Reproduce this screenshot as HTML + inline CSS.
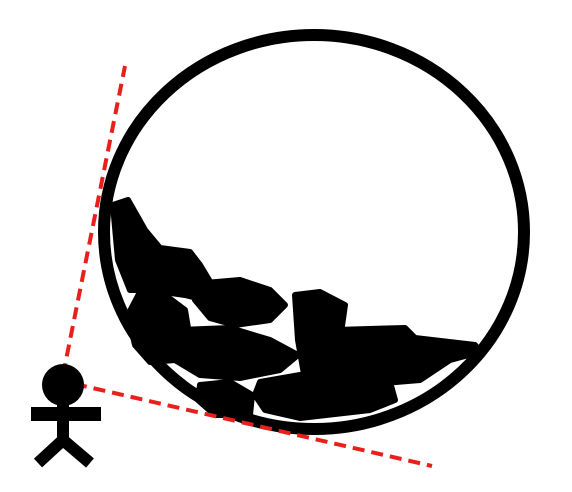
<!DOCTYPE html>
<html><head><meta charset="utf-8"><style>
html,body{margin:0;padding:0;background:#fff;width:572px;height:492px;overflow:hidden}
</style></head><body>
<svg width="572" height="492" viewBox="0 0 572 492">
<g fill="#000" stroke="#000" stroke-width="6" stroke-linejoin="round">
<path d="M113,205 L128,200 L145,230 L160,248 L190,252 L200,265 L212,285 L205,300 L185,295 L150,290 L130,290 L118,260 Z"/>
<path d="M205,283 L240,280 L270,290 L285,305 L270,320 L235,325 L210,318 L195,300 Z"/>
<path d="M140,292 L165,295 L185,310 L190,340 L175,360 L150,362 L135,345 L128,315 Z"/>
<path d="M180,330 L230,328 L270,340 L298,355 L280,370 L240,378 L200,375 L175,360 Z"/>
<path d="M295,295 L320,292 L345,305 L340,340 L330,375 L305,380 L298,340 Z"/>
<path d="M335,330 L405,328 L415,338 L475,345 L480,352 L450,360 L420,380 L360,385 L335,375 L330,350 Z"/>
<path d="M260,382 L300,375 L390,382 L395,400 L370,410 L300,418 L265,410 L255,395 Z"/>
<path d="M200,385 L230,382 L252,395 L250,415 L215,415 L198,400 Z"/>
</g>
<ellipse cx="314" cy="232" rx="210" ry="197" fill="none" stroke="#000" stroke-width="12"/>
<g stroke="#e8201c" stroke-width="4" stroke-dasharray="12 7" fill="none">
<line x1="63" y1="375" x2="125" y2="66"/>
<line x1="75" y1="384" x2="432" y2="466"/>
</g>
<g fill="#000" stroke="#000">
<circle cx="63" cy="385" r="21" stroke="none"/>
<rect x="31" y="407" width="70" height="14" stroke="none"/>
<line x1="63" y1="400" x2="63" y2="442" stroke-width="12"/>
<polyline points="38,463 63,440 90,463" fill="none" stroke-width="12"/>
</g>
</svg>
</body></html>
